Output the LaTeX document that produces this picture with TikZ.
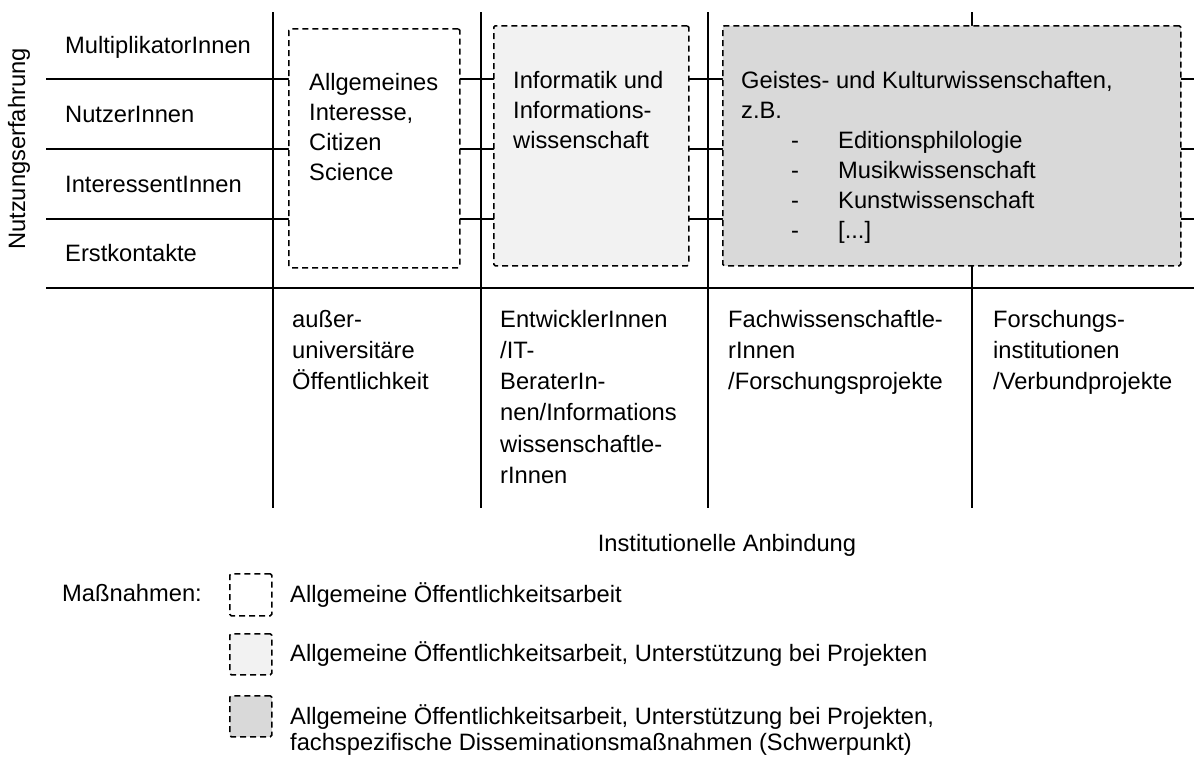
\documentclass[tikz,border=0pt]{standalone}
\usepackage{fontspec}
\setmainfont{Liberation Sans}
\definecolor{lightfill}{HTML}{F2F2F2}
\definecolor{midfill}{HTML}{D9D9D9}
\newcommand{\mlines}[1]{\begin{tabular}[t]{@{}l@{}}#1\end{tabular}}
\newcommand{\litem}[1]{\hspace*{50pt}\makebox[47pt][l]{-}#1}
\begin{document}
\begin{tikzpicture}[x=1pt,y=-1pt,
  gridline/.style={line width=2pt},
  dbox/.style={draw, line width=1.5pt, dash pattern=on 6pt off 4pt, inner sep=0pt, anchor=north west, rounded corners=1.5pt},
  lbl/.style={inner sep=0pt, anchor=base west, font=\fontsize{23.7}{30}\selectfont},
  lblb/.style={inner sep=0pt, anchor=base west, font=\fontsize{23.7}{31.3}\selectfont},
  lgd/.style={inner sep=0pt, anchor=base west, font=\fontsize{23.7}{26}\selectfont},
]
\useasboundingbox (0,0) rectangle (1194,758);
% grid
\foreach \yy in {79,149,219,288} \draw[gridline] (46,\yy) -- (1194,\yy);
\foreach \xx in {273,481,708,972} \draw[gridline] (\xx,12) -- (\xx,508);
% boxes
\node[dbox, fill=white, minimum width=171pt, minimum height=239pt] (b1) at (288,28) {};
\node[dbox, fill=lightfill, minimum width=195pt, minimum height=240pt] (b2) at (493,25) {};
\node[dbox, fill=midfill, minimum width=458pt, minimum height=240pt] (b3) at (722,25) {};
% box texts
\node[lbl] (t1) at (309,90) {\mlines{Allgemeines\\Interesse,\\Citizen\\Science}};
\node[lbl] (t2) at (513,88) {\mlines{Informatik und\\Informations-\\wissenschaft}};
\node[lbl] (t3) at (741,88) {\mlines{Geistes- und Kulturwissenschaften,\\z.B.\\\litem{Editionsphilologie}\\\litem{Musikwissenschaft}\\\litem{Kunstwissenschaft}\\\litem{[...]}}};
% row labels
\node[lbl] (r1) at (65,53) {MultiplikatorInnen};
\node[lbl] (r2) at (65,122) {NutzerInnen};
\node[lbl] (r3) at (65,192) {InteressentInnen};
\node[lbl] (r4) at (65,261) {Erstkontakte};
\node[rotate=90, inner sep=0pt, font=\fontsize{23.7}{30}\selectfont] (yax) at (19,149) {Nutzungserfahrung};
% column labels
\node[lblb] (c1) at (292,327) {\mlines{außer-\\universitäre\\Öffentlichkeit}};
\node[lblb] (c2) at (500,327) {\mlines{EntwicklerInnen\\/IT-\\BeraterIn-\\nen/Informations\\wissenschaftle-\\rInnen}};
\node[lblb] (c3) at (728,327) {\mlines{Fachwissenschaftle-\\rInnen\\/Forschungsprojekte}};
\node[lblb] (c4) at (993,327) {\mlines{Forschungs-\\institutionen\\/Verbundprojekte}};
\node[inner sep=0pt, anchor=base, font=\fontsize{23.7}{30}\selectfont] (xax) at (727,551) {Institutionelle Anbindung};
% legend
\node[lgd] (mn) at (62,601) {Maßnahmen:};
\node[dbox, fill=white, minimum width=42pt, minimum height=42pt] (l1) at (229,573) {};
\node[dbox, fill=lightfill, minimum width=42pt, minimum height=41pt] (l2) at (229,633) {};
\node[dbox, fill=midfill, minimum width=42pt, minimum height=41pt] (l3) at (229,695) {};
\node[lgd] (lt1) at (290,602) {Allgemeine Öffentlichkeitsarbeit};
\node[lgd] (lt2) at (290,661) {Allgemeine Öffentlichkeitsarbeit, Unterstützung bei Projekten};
\node[lgd] (lt3) at (290,724) {\mlines{Allgemeine Öffentlichkeitsarbeit, Unterstützung bei Projekten,\\fachspezifische Disseminationsmaßnahmen (Schwerpunkt)}};
\end{tikzpicture}
\end{document}
